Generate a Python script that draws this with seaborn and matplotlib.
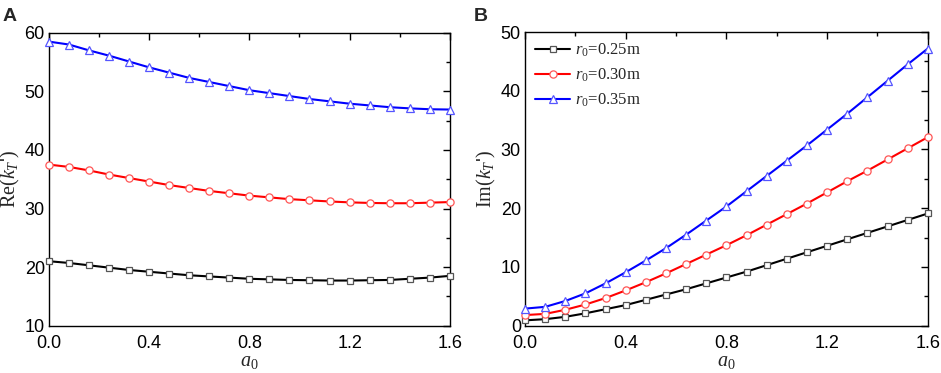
import numpy as np
import pandas as pd
import matplotlib
matplotlib.use("Agg")
import matplotlib.pyplot as plt
import seaborn as sns
from matplotlib.ticker import MultipleLocator, FormatStrFormatter

a0 = [round(0.08 * i, 2) for i in range(21)]
labels = [r"$r_0$=0.25m", r"$r_0$=0.30m", r"$r_0$=0.35m"]

re_025 = [21.0, 20.7, 20.3, 19.9, 19.5, 19.2, 18.9, 18.6, 18.4, 18.2, 18.0,
          17.9, 17.8, 17.75, 17.7, 17.7, 17.75, 17.8, 18.0, 18.2, 18.5]
re_030 = [37.5, 37.1, 36.5, 35.8, 35.2, 34.6, 34.0, 33.5, 33.0, 32.6, 32.2,
          31.9, 31.6, 31.4, 31.2, 31.05, 30.95, 30.9, 30.9, 31.0, 31.1]
re_035 = [58.5, 58.0, 57.0, 56.1, 55.1, 54.1, 53.2, 52.3, 51.6, 50.9, 50.2,
          49.7, 49.2, 48.7, 48.3, 47.9, 47.6, 47.3, 47.1, 46.95, 46.9]

im_025 = [0.9, 1.1, 1.5, 2.1, 2.8, 3.5, 4.4, 5.3, 6.2, 7.2, 8.2,
          9.2, 10.3, 11.4, 12.5, 13.6, 14.7, 15.8, 16.9, 18.0, 19.1]
im_030 = [1.8, 2.0, 2.7, 3.6, 4.7, 6.0, 7.4, 8.9, 10.5, 12.1, 13.7,
          15.4, 17.2, 19.0, 20.8, 22.7, 24.6, 26.4, 28.3, 30.2, 32.1]
im_035 = [2.9, 3.2, 4.2, 5.5, 7.2, 9.1, 11.1, 13.2, 15.5, 17.9, 20.3,
          22.9, 25.5, 28.1, 30.7, 33.4, 36.1, 38.9, 41.7, 44.5, 47.2]

sns.set_theme(style="white")
plt.rcParams['font.family'] = ['Liberation Sans', 'DejaVu Sans']
plt.rcParams['mathtext.fontset'] = 'custom'
plt.rcParams['mathtext.rm'] = 'Liberation Serif'
plt.rcParams['mathtext.it'] = 'Liberation Serif:italic'
plt.rcParams['mathtext.bf'] = 'Liberation Serif:bold'

line_colors = ["#000000", "#ff0000", "#0000ff"]
edge_colors = ["#555555", "#ff5555", "#5555ff"]
markers = ["s", "o", "^"]
msizes = [4.6, 5.2, 5.6]

fig = plt.figure(figsize=(9.41, 3.73), dpi=100)
axA = fig.add_axes([0.052, 0.127, 0.426, 0.785])
axB = fig.add_axes([0.558, 0.127, 0.428, 0.787])

def draw(ax, series):
    for ys, lab, lc, ec, mk, ms in zip(series, labels, line_colors, edge_colors, markers, msizes):
        df = pd.DataFrame({"a0": a0, "v": ys})
        sns.lineplot(data=df, x="a0", y="v", ax=ax, color=lc, lw=1.5,
                     marker=mk, markersize=ms, markerfacecolor="white",
                     markeredgecolor=ec, markeredgewidth=0.9, label=lab,
                     clip_on=False, zorder=3)

draw(axA, [re_025, re_030, re_035])
draw(axB, [im_025, im_030, im_035])

for ax in (axA, axB):
    ax.set_xlim(0, 1.6)
    ax.xaxis.set_major_locator(MultipleLocator(0.4))
    ax.xaxis.set_minor_locator(MultipleLocator(0.2))
    ax.yaxis.set_major_locator(MultipleLocator(10))
    ax.yaxis.set_minor_locator(MultipleLocator(5))
    ax.tick_params(which='both', direction='in', top=True, right=True,
                   labelsize=13, colors='black', width=1)
    ax.tick_params(which='major', length=5)
    ax.tick_params(which='minor', length=3)
    ax.tick_params(axis='y', which='major', pad=3)
    ax.tick_params(axis='x', which='major', pad=6.5)
    ax.xaxis.set_major_formatter(FormatStrFormatter('%.1f'))
    for s in ax.spines.values():
        s.set_color('black')
        s.set_linewidth(1)
    ax.set_xlabel(r"$a_0$", fontsize=14.5, labelpad=0.5)

axA.set_ylim(10, 60)
axB.set_ylim(0, 50)
axA.set_ylabel(r"$\mathrm{Re}(k_T$'$)$", fontsize=14.5, labelpad=2)
axB.set_ylabel(r"$\mathrm{Im}(k_T$'$)$", fontsize=14.5, labelpad=2)

axA.get_legend().remove()
axB.legend(loc='upper left', frameon=False, handlelength=2.1,
           handletextpad=0.3, labelspacing=0.45, borderaxespad=0.2,
           prop={'family': 'Liberation Serif', 'size': 12})

fig.text(0.003, 0.978, "A", fontsize=14, fontweight='bold', va='top', ha='left')
fig.text(0.503, 0.978, "B", fontsize=14, fontweight='bold', va='top', ha='left')

fig.savefig("out.png", dpi=100)
